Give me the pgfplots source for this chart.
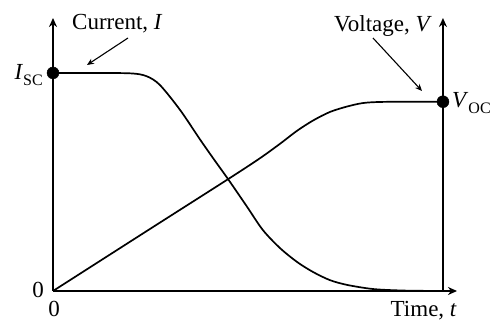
\documentclass[border=0pt]{standalone}
\usepackage{pgfplots}
\pgfplotsset{compat=1.18}
\usepackage{fontspec}
\setmainfont{Liberation Serif}
\usetikzlibrary{arrows.meta}
\begin{document}
\begin{tikzpicture}[font=\fontsize{23bp}{27bp}\selectfont]
\begin{axis}[
  scale only axis,
  width=404bp, height=273bp,
  xmin=0, xmax=10.36, ymin=0, ymax=1.252,
  hide axis, clip=false,
]
\coordinate (O) at (axis cs:0,0);
% axes
\draw[line width=1.8bp, -{Stealth[length=9bp,width=8bp]}] (axis cs:0,0) -- (axis cs:0,1.252);
\draw[line width=1.8bp, -{Stealth[length=9bp,width=8bp]}] (axis cs:10,0) -- (axis cs:10,1.252);
\draw[line width=1.8bp, -{Stealth[length=9bp,width=8bp]}] (axis cs:0,0) -- (axis cs:10.36,0);
% current
\addplot[black, line width=1.7bp, smooth, tension=0.5] coordinates {
(0,1) (1,1) (2,0.998) (2.4,0.985) (2.74,0.945) (3.26,0.83) (3.77,0.695)
(4.13,0.603) (4.49,0.513) (4.97,0.388) (5.38,0.28) (5.82,0.197) (6.26,0.133) (6.67,0.087)
(7.1,0.05) (7.54,0.028) (8.21,0.009) (9,0.002) (10,0)
};
% voltage
\addplot[black, line width=1.7bp, smooth, tension=0.5] coordinates {
(0,0) (2.5,0.286) (4.49,0.513) (5.3,0.608) (5.82,0.675) (6.26,0.735) (6.67,0.782)
(7.1,0.821) (7.54,0.846) (7.95,0.862) (8.4,0.867) (9.2,0.868) (10,0.868)
};
\addplot[only marks, mark=*, mark size=6bp, black] coordinates {(0,1) (10,0.868)};
\end{axis}
\node[anchor=base west, inner sep=0] at ([shift={(19bp,261bp)}]O) {Current, \textit{I}};
\draw[line width=1.1bp, -{Stealth[length=7bp,width=6bp]}] ([shift={(75bp,253bp)}]O) -- ([shift={(34bp,226bp)}]O);
\node[anchor=base east, inner sep=0] at ([shift={(379bp,259bp)}]O) {Voltage, \textit{V}};
\draw[line width=1.1bp, -{Stealth[length=7bp,width=6bp]}] ([shift={(320bp,253bp)}]O) -- ([shift={(369bp,200bp)}]O);
\node[anchor=base east, inner sep=0] at ([shift={(-10bp,211bp)}]O) {\textit{I}\raisebox{-0.25em}{\fontsize{16bp}{16bp}\selectfont SC}};
\node[anchor=base west, inner sep=0] at ([shift={(399bp,183bp)}]O) {\textit{V}\raisebox{-0.25em}{\fontsize{16bp}{16bp}\selectfont OC}};
\node[anchor=center, inner sep=0] at ([shift={(-15bp,1bp)}]O) {0};
\node[anchor=center, inner sep=0] at ([shift={(1bp,-18bp)}]O) {0};
\node[anchor=base east, inner sep=0] at ([shift={(404bp,-25bp)}]O) {Time, \textit{t}};
\pgfresetboundingbox
\path[use as bounding box] ([shift={(-53bp,-30bp)}]O) rectangle ([shift={(438bp,291bp)}]O);
\end{tikzpicture}
\end{document}
